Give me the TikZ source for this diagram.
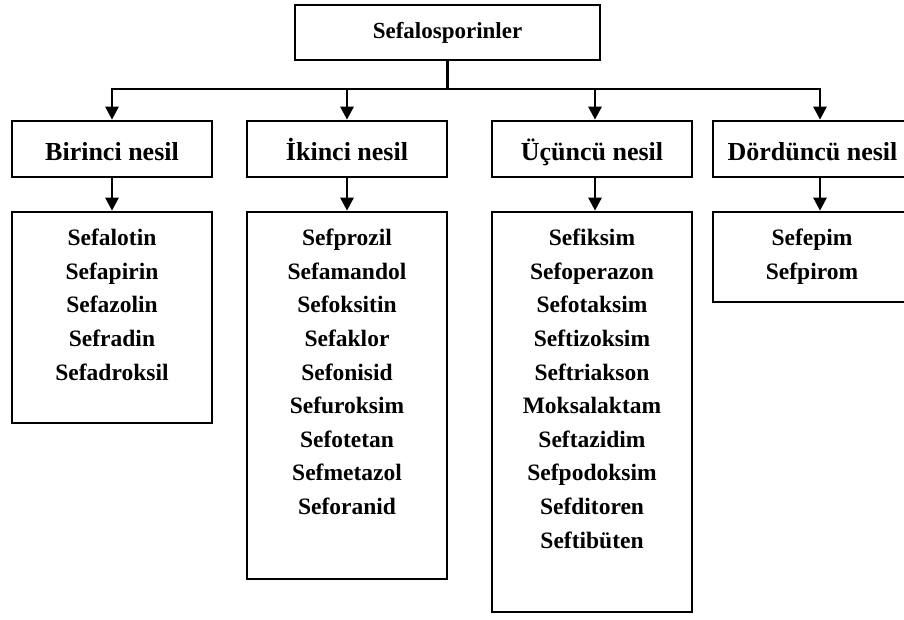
\documentclass[tikz,border=0pt]{standalone}
\usepackage{fontspec}
\setmainfont{Liberation Serif}
\usetikzlibrary{arrows.meta}
\begin{document}
\begin{tikzpicture}[x=1pt,y=-1pt,
  box/.style={draw,line width=2.7pt,inner sep=0pt},
  headfont/.style={font=\fontsize{26}{30}\selectfont\bfseries,text height=24pt,text depth=2pt},
  topfont/.style={font=\fontsize{23}{28}\selectfont\bfseries},
  listtext/.style={font=\fontsize{23.5}{33.6}\selectfont\bfseries,align=center,inner sep=0pt,anchor=north},
  conn/.style={line width=2.7pt},
  arr/.style={line width=2.7pt,-{Triangle[length=13pt,width=13pt]}}]
\useasboundingbox (0,0) rectangle (904,619);
% top
\node[box,topfont,minimum width=305pt,minimum height=55pt] (top) at (447.5,32.5) {Sefalosporinler};
\coordinate (bus) at (447.5,89);
% level 2
\node[box,headfont,minimum width=200pt,minimum height=56pt] (b1) at (112,149) {Birinci nesil};
\node[box,headfont,minimum width=200pt,minimum height=56pt] (b2) at (347,149) {İkinci nesil};
\node[box,headfont,minimum width=200pt,minimum height=56pt] (b3) at (592,149) {Üçüncü nesil};
\node[box,minimum width=200pt,minimum height=56pt] (b4) at (813,149) {};
\node[headfont,inner sep=0pt] (t4) at (812.5,149) {Dördüncü nesil};
% level 3 boxes
\node[box,minimum width=200pt,minimum height=211pt] (l1) at (112,317.5) {};
\node[box,minimum width=200pt,minimum height=367pt] (l2) at (347,395.5) {};
\node[box,minimum width=200pt,minimum height=400pt] (l3) at (592,412) {};
\node[box,minimum width=200pt,minimum height=90pt] (l4) at (813,257) {};
% list texts
\node[listtext] (x1) at (112,229) {Sefalotin\\Sefapirin\\Sefazolin\\Sefradin\\Sefadroksil};
\node[listtext] (x2) at (347,229) {Sefprozil\\Sefamandol\\Sefoksitin\\Sefaklor\\Sefonisid\\Sefuroksim\\Sefotetan\\Sefmetazol\\Seforanid};
\node[listtext] (x3) at (592,229) {Sefiksim\\Sefoperazon\\Sefotaksim\\Seftizoksim\\Seftriakson\\Moksalaktam\\Seftazidim\\Sefpodoksim\\Sefditoren\\Seftibüten};
\node[listtext] (x4) at (812,229) {Sefepim\\Sefpirom};
% connectors
\draw[conn] (top.south) -- (bus);
\draw[arr] (bus) -| (b1.north);
\draw[arr] (bus) -| (b2.north);
\draw[arr] (bus) -| ([xshift=3pt]b3.north);
\draw[arr] (bus) -| ([xshift=7pt]b4.north);
\draw[arr] (b1.south) -- (l1.north);
\draw[arr] (b2.south) -- (l2.north);
\draw[arr] ([xshift=3pt]b3.south) -- ([xshift=3pt]l3.north);
\draw[arr] ([xshift=7pt]b4.south) -- ([xshift=7pt]l4.north);
\end{tikzpicture}
\end{document}
